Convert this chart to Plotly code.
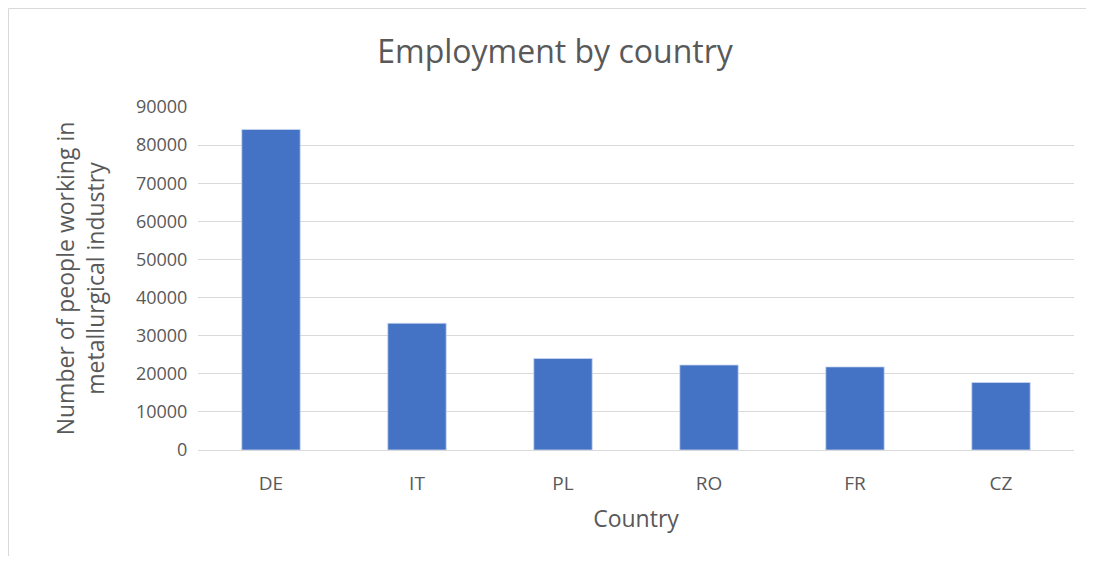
import plotly.graph_objects as go

countries = ["DE", "IT", "PL", "RO", "FR", "CZ"]
employment = [84100, 33250, 24000, 22300, 21800, 17700]
y_ticks = [0, 10000, 20000, 30000, 40000, 50000, 60000, 70000, 80000, 90000]

FONT = "Open Sans"
GREY = "#595959"

W, H = 1078, 548
L, R, T, B = 190, 12, 99, 106
PW, PH = W - L - R, H - T - B

fig = go.Figure(go.Bar(
    x=countries, y=employment,
    marker=dict(color="#4472C4", line=dict(color="#c9d5ee", width=0.8)),
))

fig.update_layout(
    width=W, height=H,
    margin=dict(l=L, r=R, t=T, b=B),
    paper_bgcolor="white", plot_bgcolor="white",
    bargap=0.6,
    showlegend=False,
    title=dict(text="Employment by country", x=547 / W, xref="container", xanchor="center",
               y=1 - 44 / H, yanchor="middle",
               font=dict(family=FONT, size=32, color=GREY)),
    font=dict(family=FONT, color=GREY),
    xaxis=dict(
        title=dict(text="Country", font=dict(size=23, color=GREY), standoff=16),
        tickfont=dict(size=19, color=GREY),
        showline=True, linecolor="#d9d9d9", linewidth=1,
        ticks="outside", ticklen=16, tickcolor="rgba(0,0,0,0)",
    ),
    yaxis=dict(
        title=dict(text="Number of people working in<br>metallurgical industry",
                   font=dict(size=23, color=GREY), standoff=24),
        range=[0, 90000], tickvals=y_ticks,
        ticktext=[str(v) for v in y_ticks],
        tickfont=dict(size=18, color=GREY),
        showgrid=True, gridcolor="#d9d9d9", gridwidth=1,
        zeroline=False, ticks="outside", ticklen=6, tickcolor="rgba(0,0,0,0)",
    ),
    shapes=[dict(type="path", xref="paper", yref="paper",
                 path=f"M {(0.5 - L) / PW},-1 L {(0.5 - L) / PW},{1 + (T - 0.5) / PH} L 1.1,{1 + (T - 0.5) / PH}",
                 line=dict(color="#d9d9d9", width=1), layer="below")],
)

fig.write_html("out.html")
